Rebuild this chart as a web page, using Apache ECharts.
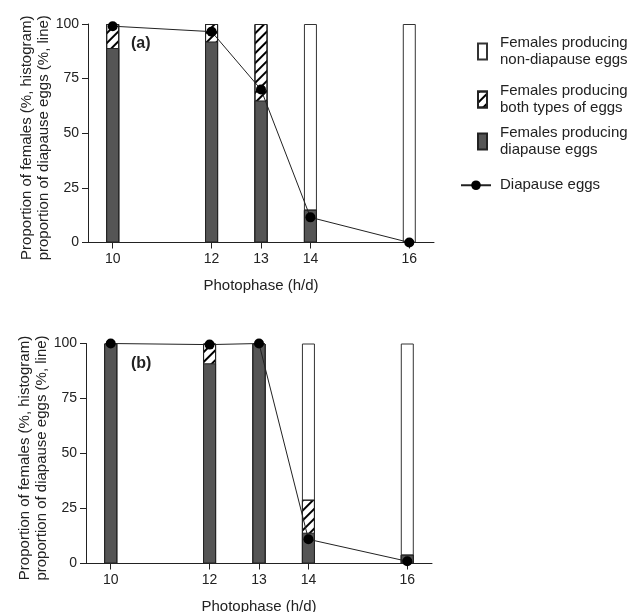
<!DOCTYPE html>
<html>
<head>
<meta charset="utf-8">
<script src="https://cdn.jsdelivr.net/npm/echarts@6/dist/echarts.min.js"></script>
<style>
html, body { margin: 0; padding: 0; background: #fff; }
#maindiv { width: 644px; height: 612px; }
</style>
</head>
<body>
<div id="maindiv"></div>
<script>
// photophase (h/d)
var photophase = [10, 12, 13, 14, 16];
var xTickValues = [10, 12, 13, 14, 16];
var yTickValues = [0, 25, 50, 75, 100];

// panel (a)
var aDiapause = [89, 92, 65, 15, 0];
var aBoth = [11, 8, 35, 0, 0];
var aNonDiapause = [0, 0, 0, 85, 100];
var aEggs = [99, 96.5, 70, 11.5, 0];

// panel (b)
var bDiapause = [100, 91, 100, 14, 4];
var bBoth = [0, 9, 0, 15, 0];
var bNonDiapause = [0, 0, 0, 71, 96];
var bEggs = [100, 99.5, 100, 11, 1];

var nmNon = 'Females producing\nnon-diapause eggs';
var nmBoth = 'Females producing\nboth types of eggs';
var nmDia = 'Females producing\ndiapause eggs';
var nmEggs = 'Diapause eggs';
var yName = 'Proportion of females (%, histogram)\nproportion of diapause eggs (%, line)';
var FONT = "'Liberation Sans', Arial, sans-serif";

var hatch = {
    symbol: 'rect', symbolSize: 1,
    dashArrayX: [1, 0], dashArrayY: [2, 4.5],
    rotation: -Math.PI / 4, color: '#000'
};

function pairs(vals) {
    return photophase.map(function (x, i) { return [x, vals[i]]; });
}
// bars are overlaid from 0: outline = total, hatched = diapause + both, dark = diapause
function barSeries(idx, dia, both, non) {
    var total = dia.map(function (v, i) { return v + both[i] + non[i]; });
    var mid = dia.map(function (v, i) { return v + both[i]; });
    var base = { type: 'bar', xAxisIndex: idx, yAxisIndex: idx, barWidth: 13, barGap: '-100%' };
    return [
        Object.assign({}, base, { name: nmNon, data: pairs(total),
            itemStyle: { color: '#fff', borderColor: '#333', borderWidth: 1 } }),
        Object.assign({}, base, { name: nmBoth, data: pairs(mid),
            itemStyle: { color: '#fff', borderColor: '#222', borderWidth: 1, decal: hatch } }),
        Object.assign({}, base, { name: nmDia, data: pairs(dia),
            itemStyle: { color: '#555', borderColor: '#222', borderWidth: 1 } })
    ];
}
function lineSeries(idx, vals) {
    return { type: 'line', name: nmEggs, xAxisIndex: idx, yAxisIndex: idx, data: pairs(vals),
        symbol: 'circle', symbolSize: 10, clip: false, z: 5,
        lineStyle: { color: '#222', width: 1 }, itemStyle: { color: '#000' } };
}
function xAxisOf(idx) {
    return { type: 'value', gridIndex: idx, min: 9.5, max: 16.5,
        name: 'Photophase (h/d)', nameLocation: 'middle', nameGap: 36, nameMoveOverlap: false,
        nameTextStyle: { fontSize: 15, color: '#222', fontFamily: FONT },
        axisLine: { lineStyle: { color: '#222', width: 1 } },
        axisTick: { customValues: xTickValues, length: 6, lineStyle: { color: '#222' } },
        axisLabel: { customValues: xTickValues, margin: 10, fontSize: 14, color: '#222', fontFamily: FONT },
        splitLine: { show: false } };
}
function yAxisOf(idx) {
    return { type: 'value', gridIndex: idx, min: 0, max: 100, interval: 25,
        name: yName, nameLocation: 'middle', nameGap: 36, nameMoveOverlap: false,
        nameTextStyle: { fontSize: 15, lineHeight: 17, color: '#222', fontFamily: FONT, padding: [0, 9, 0, 0] },
        axisLine: { show: true, lineStyle: { color: '#222', width: 1 } },
        axisTick: { show: true, length: 6, lineStyle: { color: '#222' } },
        axisLabel: { margin: 9, fontSize: 14, color: '#222', fontFamily: FONT },
        splitLine: { show: false } };
}
function legendOf(name, top, left, w, h, pad, icon) {
    var lg = { data: [name], top: top, left: left, itemWidth: w, itemHeight: h,
        selectedMode: false,
        textStyle: { fontSize: 15, lineHeight: 17.5, color: '#222', fontFamily: FONT, padding: [0, 0, 0, pad] } };
    if (icon) lg.icon = icon;
    return lg;
}

var chart = echarts.init(document.getElementById('maindiv'));
chart.setOption({
    animation: false,
    backgroundColor: '#fff',
    textStyle: { fontFamily: FONT },
    title: [
        { text: '(a)', left: 131, top: 36, padding: 0, textStyle: { fontSize: 16, fontWeight: 'bold', color: '#222' } },
        { text: '(b)', left: 131, top: 356, padding: 0, textStyle: { fontSize: 16, fontWeight: 'bold', color: '#222' } }
    ],
    legend: [
        legendOf(nmNon, 29, 472, 9, 16, 8, 'rect'),
        legendOf(nmBoth, 77, 472, 9, 16, 8, 'rect'),
        legendOf(nmDia, 119, 472, 9, 16, 8, 'rect'),
        legendOf(nmEggs, 171.5, 455, 30, 12, 4)
    ],
    grid: [
        { left: 88, top: 24, width: 346, height: 218.5, outerBoundsMode: 'none' },
        { left: 86, top: 343.5, width: 346, height: 220, outerBoundsMode: 'none' }
    ],
    xAxis: [xAxisOf(0), xAxisOf(1)],
    yAxis: [yAxisOf(0), yAxisOf(1)],
    series: [].concat(
        barSeries(0, aDiapause, aBoth, aNonDiapause),
        [lineSeries(0, aEggs)],
        barSeries(1, bDiapause, bBoth, bNonDiapause),
        [lineSeries(1, bEggs)]
    )
});
</script>
</body>
</html>
